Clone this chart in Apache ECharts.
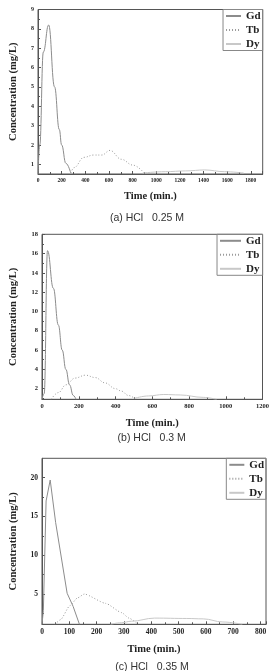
<!DOCTYPE html>
<html>
<head>
<meta charset="utf-8">
<script src="https://cdn.jsdelivr.net/npm/echarts@6/dist/echarts.min.js"></script>
<style>
html, body { margin: 0; padding: 0; background: #fff; }
#chart { width: 272px; height: 671px; }
</style>
</head>
<body>
<div id="chart"></div>
<script>
// [time (min.), concentration (mg/L)]
// (a) HCl 0.25 M
let gd_a = [[0,0.5],[15,2.0],[45,6.8],[90,8.2],[140,5.0],[180,2.8],[200,2.0],[236,1.05],[277,0.55]];
let tb_a = [[277,0.55],[305,0.83],[388,1.36],[470,1.48],[540,1.48],[609,1.72],[705,1.26],[802,0.96],[898,0.55]];
let dy_a = [[885,0.55],[1076,0.62],[1250,0.66],[1410,0.71],[1575,0.62],[1740,0.55]];
let yTicks_a = [1,2,3,4,5,6,7,8,9];
let yMinor_a = [1.5,2.5,3.5,4.5,5.5,6.5,7.5,8.5];

// (b) HCl 0.3 M
let gd_b = [[0,0.9],[12,1.5],[30,16.3],[62,12.4],[89,8.6],[110,6.0],[130,4.0],[150,2.4],[170,1.3],[185,0.9]];
let tb_b = [[50,0.9],[90,1.6],[130,2.4],[180,3.1],[237,3.4],[290,3.15],[343,2.6],[400,2.0],[432,1.75],[470,1.3],[503,1.0]];
let dy_b = [[503,1.0],[580,1.25],[663,1.4],[752,1.35],[877,1.1],[950,0.9]];
let yTicks_b = [2,4,6,8,10,12,14,16,18];
let yMinor_b = [1,3,5,7,9,11,13,15,17];

// (c) HCl 0.35 M
let gd_c = [[0,1.1],[5,2.9],[15,17],[30,19.7],[50,14.2],[92,5.1],[114,3.4],[137,1.1]];
let tb_c = [[48,1.1],[68,1.7],[102,3.5],[130,4.5],[155,5.0],[233,3.8],[292,2.6],[318,1.9],[352,1.1]];
let dy_c = [[251,1.1],[290,1.3],[328,1.5],[412,1.9],[530,1.85],[590,1.8],[662,1.4],[733,1.1]];
let yTicks_c = [5,10,15,20];
let yMinor_c = [2.5,7.5,12.5,17.5];

let serif = '"Liberation Serif", "DejaVu Serif", serif';
let sans = '"Liberation Sans", Arial, sans-serif';
let frame = '#555';

let grids = [
    {left: 33.3, top: 9.5, right: 9.3, height: 164.5},
    {left: 38.3, top: 234.3, right: 9.3, height: 165},
    {left: 38.3, top: 458.3, right: 6, height: 166}
];

function plain(v) {
    return String(v);
}

function xAxisFor(i, max, interval, fs, gap, showMax) {
    return {
        type: 'value', gridIndex: i, min: 0, max: max, interval: interval,
        name: 'Time (min.)', nameLocation: 'middle', nameGap: gap,
        nameTextStyle: {fontFamily: serif, fontWeight: 'bold', fontSize: 10.5, color: '#222'},
        axisLine: {lineStyle: {color: frame, width: 1}},
        axisTick: {inside: true, length: 3, lineStyle: {color: frame}},
        minorTick: {show: true, splitNumber: 2, length: 2, lineStyle: {color: frame}},
        axisLabel: {fontFamily: serif, fontWeight: 'bold', fontSize: fs, color: '#222', margin: 4, showMaxLabel: showMax, formatter: plain},
        splitLine: {show: false}
    };
}

function yAxisFor(i, min, max, ticks, fs, gap) {
    return {
        type: 'value', gridIndex: i, min: min, max: max,
        name: 'Concentration (mg/L)', nameLocation: 'middle', nameRotate: 90, nameGap: gap,
        nameTextStyle: {fontFamily: serif, fontWeight: 'bold', fontSize: 10.5, color: '#222'},
        axisLine: {show: true, lineStyle: {color: frame, width: 1}},
        axisTick: {inside: true, length: 3, customValues: ticks, lineStyle: {color: frame}},
        axisLabel: {fontFamily: serif, fontWeight: 'bold', fontSize: fs, color: '#222', margin: 4, customValues: ticks, formatter: plain},
        splitLine: {show: false}
    };
}

function yMinorFor(i, min, max, ticks) {
    return {
        type: 'value', gridIndex: i, min: min, max: max, position: 'left',
        axisLine: {show: false},
        axisTick: {show: true, inside: true, length: 2, customValues: ticks, lineStyle: {color: frame}},
        axisLabel: {show: false},
        splitLine: {show: false}
    };
}

function legendFor(top, right, itemWidth) {
    return {
        orient: 'vertical', top: top, right: right,
        itemWidth: itemWidth, itemHeight: 8, itemGap: 3,
        padding: [1, 2, 1, 2],
        borderColor: '#888', borderWidth: 1,
        data: ['Gd', 'Tb', 'Dy'],
        itemStyle: {opacity: 0},
        textStyle: {fontFamily: serif, fontWeight: 'bold', fontSize: 11, color: '#222'}
    };
}

let styles = {
    Gd: {color: '#8c8c8c', width: 1, type: 'solid'},
    Tb: {color: '#9a9a9a', width: 1, type: [1, 2]},
    Dy: {color: '#c8c8c8', width: 1, type: 'solid'}
};

function line(name, data, i, smooth) {
    return {
        name: name, type: 'line', data: data,
        xAxisIndex: i, yAxisIndex: i,
        symbol: 'none', smooth: smooth, smoothMonotone: 'x',
        lineStyle: styles[name], itemStyle: {color: styles[name].color},
        clip: true, animation: false
    };
}

let chart = echarts.init(document.getElementById('chart'));

let option = {
    backgroundColor: '#fff',
    animation: false,
    grid: grids.map(function (g) {
        return Object.assign({show: true, borderColor: frame, borderWidth: 1, backgroundColor: 'transparent'}, g);
    }),
    legend: [
        legendFor(9.5, 9.3, 15),
        legendFor(234.3, 9.3, 21),
        legendFor(458.3, 6, 15)
    ],
    xAxis: [
        xAxisFor(0, 1900, 200, 5.5, 17, false),
        xAxisFor(1, 1200, 200, 6.5, 18, true),
        xAxisFor(2, 820, 100, 7.5, 19, false)
    ],
    yAxis: [
        yAxisFor(0, 0.5, 9, yTicks_a, 6, 19),
        yAxisFor(1, 0.9, 18, yTicks_b, 6.5, 23),
        yAxisFor(2, 1.1, 22.5, yTicks_c, 7.5, 23),
        yMinorFor(0, 0.5, 9, yMinor_a),
        yMinorFor(1, 0.9, 18, yMinor_b),
        yMinorFor(2, 1.1, 22.5, yMinor_c)
    ],
    series: [
        line('Gd', gd_a, 0, 0.45),
        line('Tb', tb_a, 0, 0.4),
        line('Dy', dy_a, 0, 0.4),
        line('Gd', gd_b, 1, 0.45),
        line('Tb', tb_b, 1, 0.4),
        line('Dy', dy_b, 1, 0.4),
        line('Gd', gd_c, 2, false),
        line('Tb', tb_c, 2, 0.2),
        line('Dy', dy_c, 2, 0.4)
    ],
    graphic: [
        {type: 'text', x: 147, y: 218.3, style: {text: '(a) HCl   0.25 M', fontFamily: sans, fontSize: 10.5, fill: '#333', align: 'center', verticalAlign: 'middle'}},
        {type: 'text', x: 151.7, y: 438.3, style: {text: '(b) HCl   0.3 M', fontFamily: sans, fontSize: 10.5, fill: '#333', align: 'center', verticalAlign: 'middle'}},
        {type: 'text', x: 152, y: 667, style: {text: '(c) HCl   0.35 M', fontFamily: sans, fontSize: 10.5, fill: '#333', align: 'center', verticalAlign: 'middle'}}
    ]
};

chart.setOption(option);
</script>
</body>
</html>
